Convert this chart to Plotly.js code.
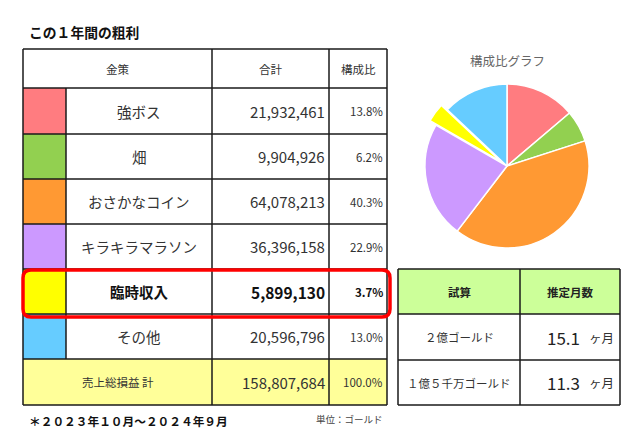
<!DOCTYPE html>
<html><head><meta charset="utf-8">
<script src="https://cdn.plot.ly/plotly-3.0.1.min.js"></script>
<style>html,body{margin:0;padding:0;background:#fff}#c{width:640px;height:446px}</style>
</head><body><div id="c"></div>
<script>
// ---------- data ----------
const chartTitle = 'この１年間の粗利';
const headers = ['金策', '合計', '構成比'];
const categories = ['強ボス', '畑', 'おさかなコイン', 'キラキラマラソン', '臨時収入', 'その他'];
const values = [21932461, 9904926, 64078213, 36396158, 5899130, 20596796];
const shares = [13.8, 6.2, 40.3, 22.9, 3.7, 13.0];
const totalLabel = '売上総損益 計';
const totalValue = 158807684;
const totalShare = 100.0;
const highlightIndex = 4;
const pieTitle = '構成比グラフ';
const scenarioHeaders = ['試算', '推定月数'];
const scenarios = ['２億ゴールド', '１億５千万ゴールド'];
const months = [15.1, 11.3];
const monthUnit = 'ヶ月';
const footnote = '＊２０２３年１０月～２０２４年９月';
const unitNote = '単位：ゴールド';

// ---------- style / layout ----------
const FONT = '"Noto Sans CJK JP", "Noto Sans", sans-serif';
const sliceColors = ['#ff7c80', '#92d050', '#ff9933', '#cc99ff', '#ffff00', '#66ccff'];
const textColor = '#333333';
const lineColor = '#1a1a1a';
const colX = [23, 66, 212, 329, 387];
const rowY = [49, 88, 134, 179, 224, 269, 314, 359, 405];
const t2X = [398, 520, 620];
const t2Y = [269, 314, 360, 405];
const W = 640, H = 446;

const shapes = [];
const annotations = [];
function rect(x0, y0, x1, y1, fill, lw, lc) {
  shapes.push({type: 'rect', xref: 'x', yref: 'y', x0, y0, x1, y1,
    fillcolor: fill || 'rgba(0,0,0,0)', line: {width: lw || 0, color: lc || lineColor}, layer: 'below'});
}
function line(x0, y0, x1, y1, w) {
  shapes.push({type: 'line', xref: 'x', yref: 'y', x0, y0, x1, y1, line: {width: w || 1.5, color: lineColor}});
}
function txt(x, y, text, size, opt) {
  opt = opt || {};
  annotations.push({xref: 'x', yref: 'y', x, y, text, showarrow: false,
    xanchor: opt.xa || 'center', yanchor: 'middle',
    font: {family: FONT, size, color: opt.color || textColor}});
}
const fmt = v => v.toLocaleString('en-US');
const mid = (a, b) => (a + b) / 2;

// main table fills
rect(colX[0], rowY[7], colX[4], rowY[8], '#ffff99');
categories.forEach((c, i) => rect(colX[0], rowY[i + 1], colX[1], rowY[i + 2], sliceColors[i]));
// main table lines
rowY.forEach(y => line(colX[0], y, colX[4], y));
line(colX[0], rowY[0], colX[0], rowY[8]);
line(colX[4], rowY[0], colX[4], rowY[8]);
line(colX[1], rowY[1], colX[1], rowY[7]);
line(colX[2], rowY[0], colX[2], rowY[8]);
line(colX[3], rowY[0], colX[3], rowY[8]);

// headers
txt(mid(colX[0], colX[2]), mid(rowY[0], rowY[1]), headers[0], 11.5);
txt(mid(colX[2], colX[3]), mid(rowY[0], rowY[1]), headers[1], 11.5);
txt(mid(colX[3], colX[4]), mid(rowY[0], rowY[1]), headers[2], 11.5);

categories.forEach((c, i) => {
  const y = mid(rowY[i + 1], rowY[i + 2]);
  const b = i === highlightIndex;
  const w = s => b ? '<b>' + s + '</b>' : s;
  txt(mid(colX[1], colX[2]), y, w(c), 14.5, {color: b ? '#111' : textColor});
  txt(colX[3] - 2, y, w(fmt(values[i])), b ? 15.5 : 15, {xa: 'right', color: b ? '#111' : textColor});
  txt(colX[4] - 2, y, w(shares[i].toFixed(1) + '%'), 11.5, {xa: 'right', color: b ? '#111' : textColor});
});
const ty = mid(rowY[7], rowY[8]);
txt(mid(colX[0], colX[2]), ty, totalLabel, 11.5);
txt(colX[3] - 2, ty, fmt(totalValue), 15, {xa: 'right'});
txt(colX[4] - 2, ty, totalShare.toFixed(1) + '%', 11.5, {xa: 'right'});

// highlight rounded rectangle
(function () {
  const x0 = 23, x1 = 390, y0 = 270, y1 = 317, r = 8;
  shapes.push({type: 'path', xref: 'x', yref: 'y',
    path: `M${x0 + r},${y0} L${x1 - r},${y0} Q${x1},${y0} ${x1},${y0 + r} L${x1},${y1 - r} Q${x1},${y1} ${x1 - r},${y1} L${x0 + r},${y1} Q${x0},${y1} ${x0},${y1 - r} L${x0},${y0 + r} Q${x0},${y0} ${x0 + r},${y0} Z`,
    line: {color: '#ff0000', width: 3.5}, fillcolor: 'rgba(0,0,0,0)'});
})();

// scenario table
rect(t2X[0], t2Y[0], t2X[2], t2Y[1], '#ccff99');
t2Y.forEach(y => line(t2X[0], y, t2X[2], y));
t2X.forEach(x => line(x, t2Y[0], x, t2Y[3]));
txt(mid(t2X[0], t2X[1]), mid(t2Y[0], t2Y[1]), '<b>' + scenarioHeaders[0] + '</b>', 11.5, {color: '#222'});
txt(mid(t2X[1], t2X[2]), mid(t2Y[0], t2Y[1]), '<b>' + scenarioHeaders[1] + '</b>', 11.5, {color: '#222'});
scenarios.forEach((s, i) => {
  const y = mid(t2Y[i + 1], t2Y[i + 2]);
  txt(mid(t2X[0], t2X[1]), y, s, 11.5);
  txt(582, y, months[i].toFixed(1), 17, {xa: 'right', color: '#222'});
  txt(587, y, monthUnit, 12.5, {xa: 'left'});
});

// titles / notes
txt(27, 32, '<b>' + chartTitle + '</b>', 13.8, {xa: 'left', color: '#111'});
txt(27, 420, '<b>' + footnote + '</b>', 11.7, {xa: 'left', color: '#111'});
txt(385, 419, unitNote, 9.5, {xa: 'right', color: '#444'});
txt(507, 60, pieTitle, 12.5, {color: '#666'});

// pie
const pull = 0.09, pr = 82, pcx = 507, pcy = 166;
const half = pr * (1 + pull);
const pie = {
  type: 'pie', labels: categories, values: values, sort: false,
  direction: 'clockwise', rotation: 0,
  pull: categories.map((c, i) => i === highlightIndex ? pull : 0),
  marker: {colors: sliceColors, line: {color: '#ffffff', width: 1.5}},
  textinfo: 'none', hoverinfo: 'label+percent', showlegend: false,
  domain: {x: [(pcx - half) / W, (pcx + half) / W], y: [(H - pcy - half) / H, (H - pcy + half) / H]}
};
const dummy = {type: 'scatter', x: [], y: [], hoverinfo: 'skip', showlegend: false};

Plotly.newPlot('c', [dummy, pie], {
  width: W, height: H, margin: {l: 0, r: 0, t: 0, b: 0},
  paper_bgcolor: '#fff', plot_bgcolor: '#fff', showlegend: false,
  xaxis: {range: [0, W], visible: false, fixedrange: true},
  yaxis: {range: [H, 0], visible: false, fixedrange: true},
  shapes, annotations
}, {displayModeBar: false, staticPlot: true});
</script></body></html>
